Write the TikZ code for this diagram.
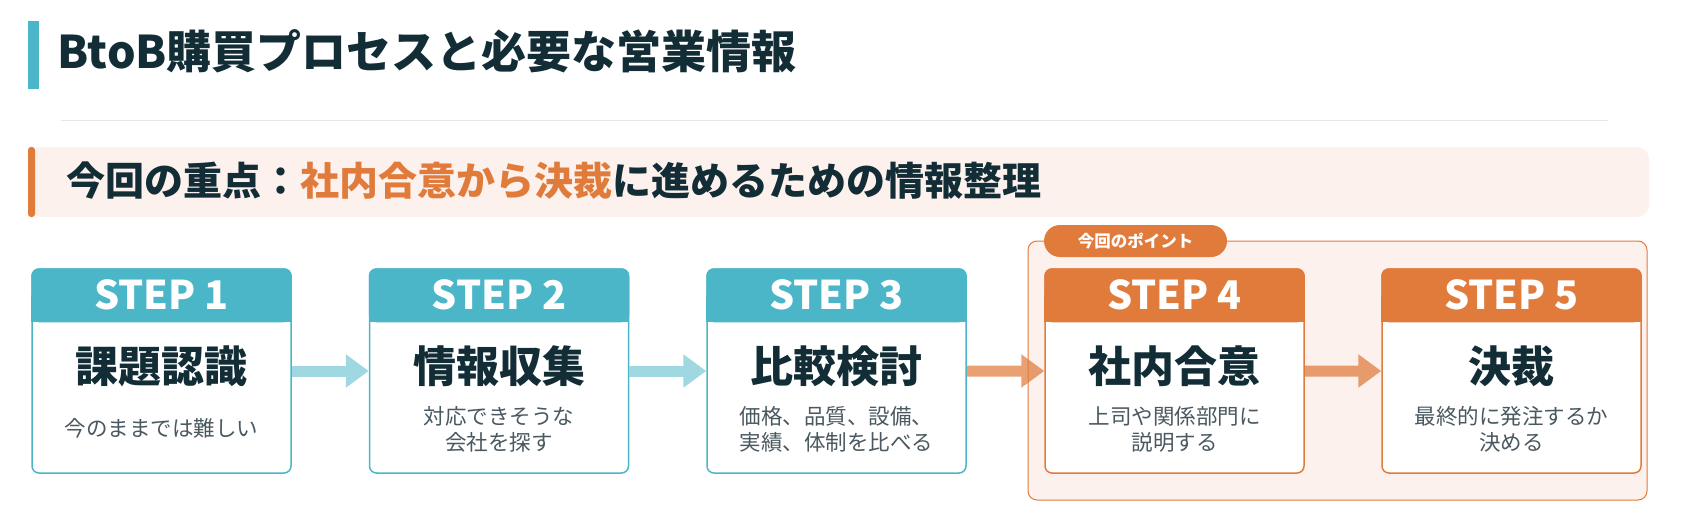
\documentclass[tikz,border=0pt]{standalone}
\usepackage{fontspec}
\setmainfont{Noto Sans CJK JP}
\usepackage{xcolor}
\usepackage{tikz}
\usetikzlibrary{arrows.meta}
\definecolor{mainteal}{RGB}{75, 182, 200}
\definecolor{lightteal}{RGB}{160, 216, 226}
\definecolor{mainorange}{RGB}{224, 123, 60}
\definecolor{bandfill}{RGB}{252, 241, 236}
\definecolor{darktext}{RGB}{19, 45, 54}
\definecolor{notetext}{RGB}{74, 88, 96}
\definecolor{rulegray}{RGB}{229, 232, 234}

\tikzset{
	stepbox/.style={draw=#1, fill=white, line width=1.5pt, rounded corners=7pt, minimum width=259pt, minimum height=204pt, inner sep=0pt},
	stephead/.style={fill=#1, text=white, rounded corners=7.75pt, minimum width=260.5pt, minimum height=54pt, inner sep=0pt, outer sep=0pt, font=\bfseries\fontsize{39.5}{39.5}\selectfont},
	steptitle/.style={text=darktext, inner sep=0pt, font=\bfseries\fontsize{43}{43}\selectfont},
	stepnote/.style={text=notetext, align=center, inner sep=0pt, font=\fontsize{21.5}{26}\selectfont},
	flow/.style={#1, line width=11pt, -{Triangle[width=32pt, length=23pt]}},
}

\begin{document}
\begin{tikzpicture}[x=1pt, y=-1pt]
	\useasboundingbox (0,0) rectangle (1684,524);
	% heading
	\fill[mainteal] (28,21) rectangle (39,89);
	\node[anchor=west, text=darktext, inner sep=0pt, font=\bfseries\fontsize{45}{45}\selectfont] (title) at (57,51) {BtoB購買プロセスと必要な営業情報};
	\draw[rulegray, line width=1pt] (61,121) -- (1608,121);
	% focus band
	\fill[bandfill, rounded corners=12pt] (28,147) rectangle (1649,217);
	\fill[mainorange, rounded corners=3pt] (28,147) rectangle (35,217);
	\node[anchor=west, text=darktext, inner sep=0pt, font=\bfseries\fontsize{39}{39}\selectfont] (focus) at (66,181) {今回の重点：\textcolor{mainorange}{社内合意から決裁}に進めるための情報整理};
	% point area
	\draw[mainorange, fill=bandfill, line width=1pt, rounded corners=9pt] (1028,241) rectangle (1647,500);
	\node[fill=mainorange, text=white, rounded corners=16pt, minimum width=183pt, minimum height=32pt, inner sep=0pt, font=\bfseries\fontsize{16.5}{16.5}\selectfont] (tag) at (1135.5,241) {今回のポイント};

	\node[stepbox=mainteal] (s1) at (161.5,371) {};
	\node[stephead=mainteal, anchor=north] (h1) at (s1.north) {};
	\fill[mainteal] (h1.west) rectangle (h1.south east);
	\node[stephead=none, fill=none] at (h1) {STEP 1};
	\node[steptitle] (t1) at (161.5,366) {課題認識};
	\node[stepnote] (n1) at (161.5,428) {今のままでは難しい};

	\node[stepbox=mainteal] (s2) at (499,371) {};
	\node[stephead=mainteal, anchor=north] (h2) at (s2.north) {};
	\fill[mainteal] (h2.west) rectangle (h2.south east);
	\node[stephead=none, fill=none] at (h2) {STEP 2};
	\node[steptitle] (t2) at (499,366) {情報収集};
	\node[stepnote] (n2) at (499,429) {対応できそうな\\会社を探す};

	\node[stepbox=mainteal] (s3) at (836.5,371) {};
	\node[stephead=mainteal, anchor=north] (h3) at (s3.north) {};
	\fill[mainteal] (h3.west) rectangle (h3.south east);
	\node[stephead=none, fill=none] at (h3) {STEP 3};
	\node[steptitle] (t3) at (836.5,366) {比較検討};
	\node[stepnote] (n3) at (836.5,429) {価格、品質、設備、\\実績、体制を比べる};

	\node[stepbox=mainorange] (s4) at (1174.5,371) {};
	\node[stephead=mainorange, anchor=north] (h4) at (s4.north) {};
	\fill[mainorange] (h4.west) rectangle (h4.south east);
	\node[stephead=none, fill=none] at (h4) {STEP 4};
	\node[steptitle] (t4) at (1174.5,366) {社内合意};
	\node[stepnote] (n4) at (1174.5,429) {上司や関係部門に\\説明する};

	\node[stepbox=mainorange] (s5) at (1511.5,371) {};
	\node[stephead=mainorange, anchor=north] (h5) at (s5.north) {};
	\fill[mainorange] (h5.west) rectangle (h5.south east);
	\node[stephead=none, fill=none] at (h5) {STEP 5};
	\node[steptitle] (t5) at (1511.5,366) {決裁};
	\node[stepnote] (n5) at (1511.5,429) {最終的に発注するか\\決める};

	\draw[flow=lightteal] (s1.east) -- (s2.west);
	\draw[flow=lightteal] (s2.east) -- (s3.west);
	\begin{scope}[transparency group, opacity=0.72]
		\draw[flow=mainorange] (s3.east) -- (s4.west);
		\draw[flow=mainorange] (s4.east) -- (s5.west);
	\end{scope}
\end{tikzpicture}
\end{document}
